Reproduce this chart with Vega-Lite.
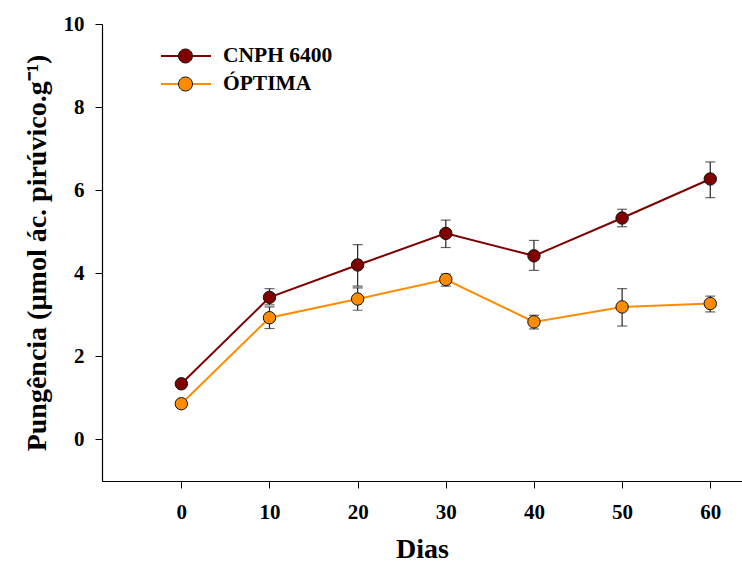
{
  "$schema": "https://vega.github.io/schema/vega-lite/v6.json",
  "width": 640,
  "height": 457,
  "autosize": {"type": "none"},
  "padding": {"left": 102, "top": 24, "right": 0, "bottom": 85},
  "background": "white",
  "config": {
    "view": {"stroke": null},
    "axis": {
      "grid": false,
      "domainColor": "black",
      "domainWidth": 1.2,
      "tickColor": "black",
      "tickWidth": 1,
      "tickSize": 7,
      "labelFont": "Liberation Serif",
      "labelFontWeight": "bold",
      "labelFontSize": 21,
      "labelColor": "black",
      "titleFont": "Liberation Serif",
      "titleFontWeight": "bold",
      "titleFontSize": 28,
      "titleColor": "black"
    },
    "legend": {
      "labelFont": "Liberation Serif",
      "labelFontWeight": "bold",
      "labelFontSize": 21.5,
      "labelColor": "black"
    }
  },
  "data": {
    "values": [
      {"dia": 0, "serie": "CNPH 6400", "valor": 1.34, "lo": 1.29, "hi": 1.39},
      {"dia": 10, "serie": "CNPH 6400", "valor": 3.42, "lo": 3.24, "hi": 3.63},
      {"dia": 20, "serie": "CNPH 6400", "valor": 4.2, "lo": 3.69, "hi": 4.69},
      {"dia": 30, "serie": "CNPH 6400", "valor": 4.96, "lo": 4.62, "hi": 5.28},
      {"dia": 40, "serie": "CNPH 6400", "valor": 4.42, "lo": 4.07, "hi": 4.79},
      {"dia": 50, "serie": "CNPH 6400", "valor": 5.33, "lo": 5.12, "hi": 5.54},
      {"dia": 60, "serie": "CNPH 6400", "valor": 6.27, "lo": 5.82, "hi": 6.68},
      {"dia": 0, "serie": "ÓPTIMA", "valor": 0.86, "lo": 0.82, "hi": 0.9},
      {"dia": 10, "serie": "ÓPTIMA", "valor": 2.93, "lo": 2.67, "hi": 3.19},
      {"dia": 20, "serie": "ÓPTIMA", "valor": 3.38, "lo": 3.11, "hi": 3.65},
      {"dia": 30, "serie": "ÓPTIMA", "valor": 3.85, "lo": 3.69, "hi": 3.98},
      {"dia": 40, "serie": "ÓPTIMA", "valor": 2.83, "lo": 2.66, "hi": 2.99},
      {"dia": 50, "serie": "ÓPTIMA", "valor": 3.19, "lo": 2.73, "hi": 3.63},
      {"dia": 60, "serie": "ÓPTIMA", "valor": 3.27, "lo": 3.07, "hi": 3.45}
    ]
  },
  "encoding": {
    "x": {
      "field": "dia",
      "type": "quantitative",
      "scale": {"domain": [-9, 63.6], "nice": false, "zero": false},
      "axis": {"values": [0, 10, 20, 30, 40, 50, 60], "title": "Dias", "labelPadding": 13, "titlePadding": 13}
    }
  },
  "layer": [
    {
      "mark": {"type": "rule", "color": "#222222", "strokeWidth": 1.2},
      "encoding": {
        "y": {"field": "lo", "type": "quantitative", "scale": {"domain": [-1, 10], "nice": false, "zero": false},
          "axis": {"values": [0, 2, 4, 6, 8, 10], "title": "Pungência (µmol ác. pirúvico.g⁻¹)", "labelPadding": 11, "titlePadding": 12}},
        "y2": {"field": "hi"}
      }
    },
    {
      "mark": {"type": "tick", "orient": "horizontal", "color": "#222222", "size": 10, "thickness": 1.2},
      "encoding": {"y": {"field": "hi", "type": "quantitative"}}
    },
    {
      "mark": {"type": "tick", "orient": "horizontal", "color": "#222222", "size": 10, "thickness": 1.2},
      "encoding": {"y": {"field": "lo", "type": "quantitative"}}
    },
    {
      "mark": {"type": "line", "strokeWidth": 2},
      "encoding": {
        "y": {"field": "valor", "type": "quantitative"},
        "color": {
          "field": "serie",
          "type": "nominal",
          "scale": {"range": ["#800000", "#FF8C00"]},
          "legend": {
            "orient": "none",
            "legendX": 58,
            "legendY": 18,
            "title": null,
            "padding": 0,
            "symbolType": "M-1,0L1,0",
            "symbolSize": 2500,
            "symbolStrokeWidth": 2,
            "labelOpacity": 0,
            "labelOffset": 12,
            "clipHeight": 28,
            "rowPadding": 0
          }
        }
      }
    },
    {
      "mark": {"type": "point", "filled": true, "opacity": 1, "size": 154, "stroke": "#111111", "strokeWidth": 1, "shape": "circle"},
      "encoding": {
        "y": {"field": "valor", "type": "quantitative"},
        "fill": {
          "field": "serie",
          "type": "nominal",
          "scale": {"domain": ["CNPH 6400", "ÓPTIMA"], "range": ["#800000", "#FF8C00"]},
          "legend": {
            "orient": "none",
            "legendX": 58,
            "legendY": 18,
            "title": null,
            "padding": 0,
            "symbolType": "M-0.28,0A0.28,0.28,0,1,0,0.28,0A0.28,0.28,0,1,0,-0.28,0Z",
            "symbolSize": 2500,
            "symbolStrokeColor": "#111111",
            "symbolStrokeWidth": 1,
            "symbolOpacity": 1,
            "labelOffset": 12,
            "clipHeight": 28,
            "rowPadding": 0
          }
        }
      }
    }
  ]
}
